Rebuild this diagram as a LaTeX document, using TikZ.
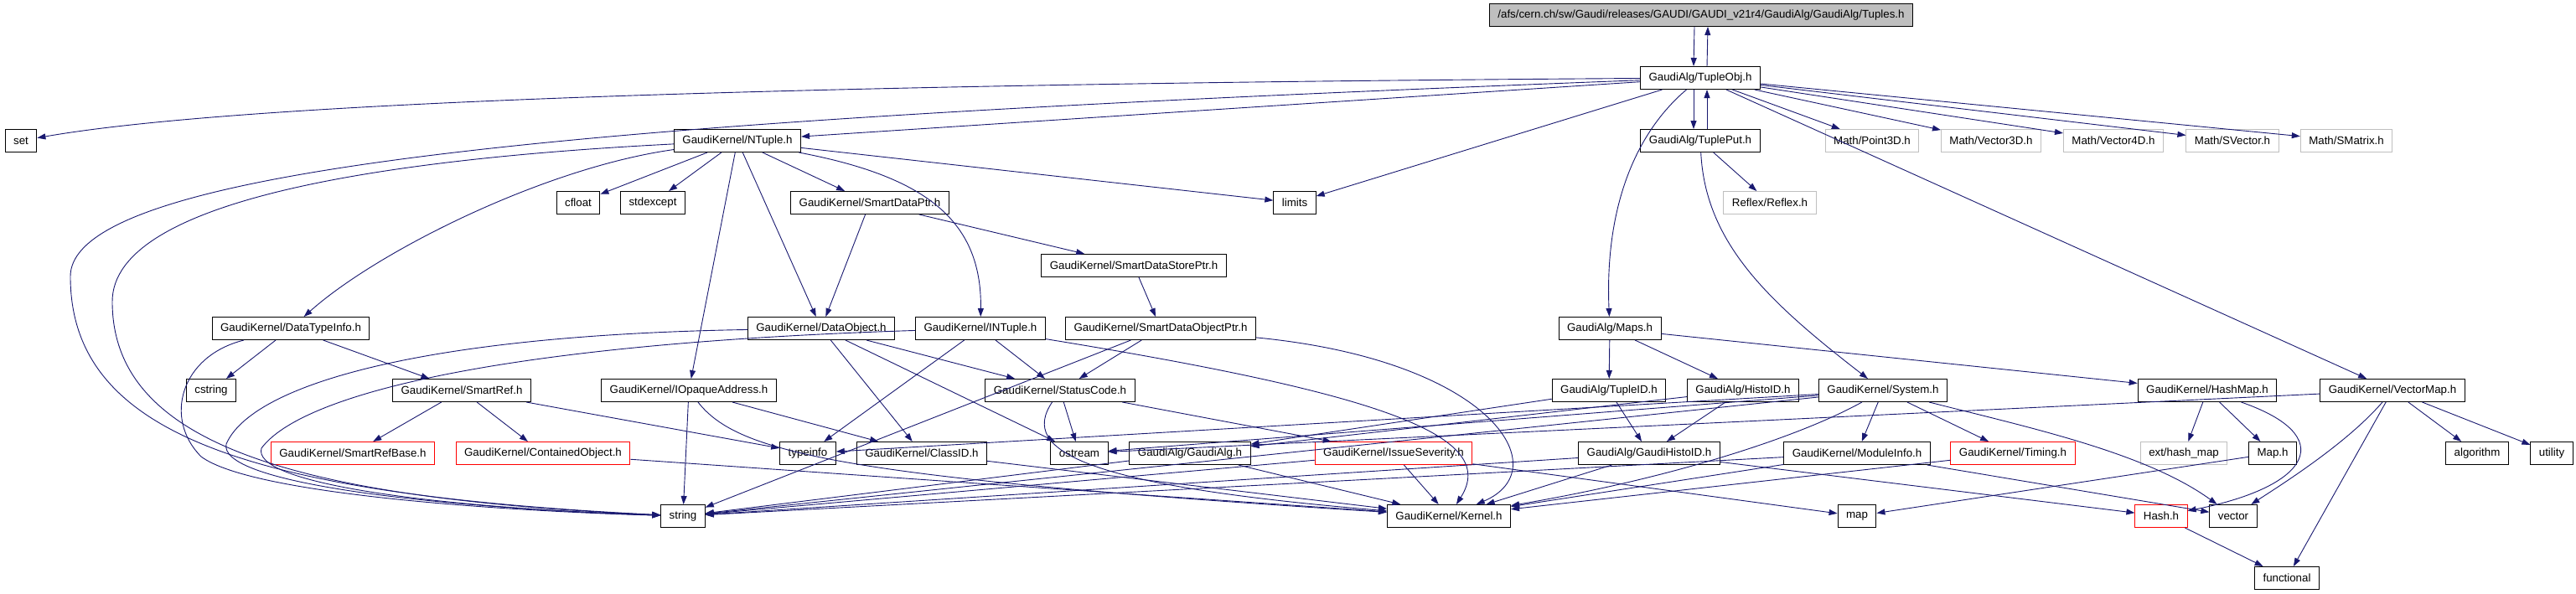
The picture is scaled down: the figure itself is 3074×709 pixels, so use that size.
\documentclass[tikz,border=0pt]{standalone}
\usepackage{fontspec}
\setmainfont{Liberation Sans}
\usetikzlibrary{arrows.meta}
\definecolor{edgeblue}{RGB}{25,25,112}
\definecolor{extgrey}{RGB}{191,191,191}
\begin{document}
\begin{tikzpicture}[
  x=1pt, y=-1pt,
  box/.style={draw, line width=1pt, minimum height=27pt, inner xsep=10pt,
              inner ysep=0pt, font=\fontsize{13.3}{16}\selectfont},
  root/.style={box, fill=extgrey},
  sysbox/.style={box, draw=extgrey},
  missing/.style={box, draw=red},
  arrow/.style={-{Triangle[length=10pt,width=7pt]}, edgeblue, line width=0.9pt}
]
\useasboundingbox (0,0) rectangle (3074,709);
% rows from top to bottom
\node[root] (tuples) at (2030,18) {/afs/cern.ch/sw/Gaudi/releases/GAUDI/GAUDI\_v21r4/GaudiAlg/GaudiAlg/Tuples.h};
\node[box] (tupleobj) at (2029,93) {GaudiAlg/TupleObj.h};
\node[box] (set) at (25,168) {set};
\node[box] (ntuple) at (880,168) {GaudiKernel/NTuple.h};
\node[box] (tupleput) at (2029,168) {GaudiAlg/TuplePut.h};
\node[sysbox] (point3d) at (2234,168) {Math/Point3D.h};
\node[sysbox] (vector3d) at (2376,168) {Math/Vector3D.h};
\node[sysbox] (vector4d) at (2522,168) {Math/Vector4D.h};
\node[sysbox] (svector) at (2664,168) {Math/SVector.h};
\node[sysbox] (smatrix) at (2800,168) {Math/SMatrix.h};
\node[box] (cfloat) at (690,242) {cfloat};
\node[box] (stdexcept) at (779,242) {stdexcept};
\node[box] (smartdataptr) at (1038,242) {GaudiKernel/SmartDataPtr.h};
\node[box] (limits) at (1545,242) {limits};
\node[sysbox] (reflex) at (2112,242) {Reflex/Reflex.h};
\node[box] (smartdatastoreptr) at (1353,317) {GaudiKernel/SmartDataStorePtr.h};
\node[box] (datatypeinfo) at (347,392) {GaudiKernel/DataTypeInfo.h};
\node[box] (dataobject) at (980,392) {GaudiKernel/DataObject.h};
\node[box] (intuple) at (1170,392) {GaudiKernel/INTuple.h};
\node[box] (smartdataobjectptr) at (1385,392) {GaudiKernel/SmartDataObjectPtr.h};
\node[box] (maps) at (1921,392) {GaudiAlg/Maps.h};
\node[box] (cstring) at (252,466) {cstring};
\node[box] (smartref) at (551,466) {GaudiKernel/SmartRef.h};
\node[box] (iopaqueaddress) at (822,466) {GaudiKernel/IOpaqueAddress.h};
\node[box] (statuscode) at (1265,466) {GaudiKernel/StatusCode.h};
\node[box] (tupleid) at (1920,466) {GaudiAlg/TupleID.h};
\node[box] (histoid) at (2080,466) {GaudiAlg/HistoID.h};
\node[box] (system) at (2247,466) {GaudiKernel/System.h};
\node[box] (hashmap) at (2634,466) {GaudiKernel/HashMap.h};
\node[box] (vectormap) at (2855,466) {GaudiKernel/VectorMap.h};
\node[missing] (smartrefbase) at (421,541) {GaudiKernel/SmartRefBase.h};
\node[missing] (containedobject) at (648,541) {GaudiKernel/ContainedObject.h};
\node[box] (typeinfo) at (964,541) {typeinfo};
\node[box] (classid) at (1100,541) {GaudiKernel/ClassID.h};
\node[box] (ostream) at (1288,541) {ostream};
\node[box] (gaudialg) at (1420,541) {GaudiAlg/GaudiAlg.h};
\node[missing] (issueseverity) at (1663,541) {GaudiKernel/IssueSeverity.h};
\node[box] (gaudihistoid) at (1968,541) {GaudiAlg/GaudiHistoID.h};
\node[box] (moduleinfo) at (2216,541) {GaudiKernel/ModuleInfo.h};
\node[missing] (timing) at (2402,541) {GaudiKernel/Timing.h};
\node[sysbox] (exthashmap) at (2606,541) {ext/hash\_map};
\node[box] (maph) at (2712,541) {Map.h};
\node[box] (algorithm) at (2956,541) {algorithm};
\node[box] (utility) at (3045,541) {utility};
\node[box] (string) at (815,616) {string};
\node[box] (kernel) at (1729,616) {GaudiKernel/Kernel.h};
\node[box] (map) at (2216,616) {map};
\node[missing] (hash) at (2579,616) {Hash.h};
\node[box] (vector) at (2665,616) {vector};
\node[box] (functional) at (2729,690) {functional};
% Tuples.h and its includes
\draw[arrow] ([xshift=-8pt]tuples.south) -- ([xshift=-8pt]tupleobj.north);
\draw[arrow] ([xshift=8pt]tupleobj.north) -- ([xshift=8pt]tuples.south);
\draw[arrow] ([xshift=-8pt]tupleobj.south) -- ([xshift=-8pt]tupleput.north);
\draw[arrow] ([xshift=8pt]tupleput.north) -- ([xshift=8pt]tupleobj.south);
\draw[arrow] (tupleobj) .. controls (1000,100) and (300,120) .. (set);
\draw[arrow] (tupleobj) .. controls (800,140) and (84,190) .. (84,330) .. controls (84,520) and (300,590) .. (string);
\draw[arrow] (tupleobj) -- (ntuple);
\draw[arrow] (tupleobj) -- (limits);
\draw[arrow] (tupleobj) .. controls (1950,160) and (1915,250) .. (maps);
\foreach \m in {point3d,vector3d,vector4d,svector,smatrix}
  \draw[arrow] (tupleobj) -- (\m);
\draw[arrow] (tupleobj) -- (vectormap);
\draw[arrow] (tupleput) -- (reflex);
\draw[arrow] (tupleput) .. controls (2035,290) and (2110,360) .. (system);
% NTuple.h
\draw[arrow] (ntuple) .. controls (450,190) and (134,240) .. (134,360) .. controls (134,530) and (350,595) .. (string);
\draw[arrow] (ntuple) .. controls (650,200) and (450,300) .. (datatypeinfo);
\foreach \m in {cfloat,stdexcept,smartdataptr,limits,iopaqueaddress,dataobject}
  \draw[arrow] (ntuple) -- (\m);
\draw[arrow] (ntuple) .. controls (1100,210) and (1172,260) .. (intuple);
\draw[arrow] (smartdataptr) -- (smartdatastoreptr);
\draw[arrow] (smartdataptr) -- (dataobject);
\draw[arrow] (smartdatastoreptr) -- (smartdataobjectptr);
% GaudiKernel headers
\draw[arrow] (datatypeinfo) -- (cstring);
\draw[arrow] (datatypeinfo) -- (smartref);
\draw[arrow] (datatypeinfo) .. controls (215,425) and (195,500) .. (240,545) .. controls (300,590) and (600,610) .. (string);
\draw[arrow] (dataobject) .. controls (500,400) and (300,460) .. (270,530) .. controls (260,575) and (500,605) .. (string);
\draw[arrow] (intuple) .. controls (600,410) and (360,470) .. (312,535) .. controls (300,575) and (500,605) .. (string);
\foreach \m in {classid,ostream,statuscode}
  \draw[arrow] (dataobject) -- (\m);
\draw[arrow] (intuple) -- (typeinfo);
\draw[arrow] (intuple) -- (statuscode);
\draw[arrow] (intuple) .. controls (1650,470) and (1790,520) .. (kernel);
\draw[arrow] (smartdataobjectptr) -- (string);
\draw[arrow] (smartdataobjectptr) -- (statuscode);
\draw[arrow] (smartdataobjectptr) .. controls (1780,430) and (1860,560) .. (kernel);
\draw[arrow] (statuscode) -- (ostream);
\draw[arrow] (statuscode) -- (issueseverity);
\draw[arrow] (statuscode) .. controls (1215,540) and (1300,580) .. (kernel);
\foreach \m in {smartrefbase,containedobject,typeinfo}
  \draw[arrow] (smartref) -- (\m);
\draw[arrow] (iopaqueaddress) -- (string);
\draw[arrow] (iopaqueaddress) -- (classid);
\draw[arrow] (iopaqueaddress) .. controls (880,540) and (1000,570) .. (kernel);
\draw[arrow] (containedobject) -- (kernel);
\draw[arrow] (classid) -- (kernel);
\draw[arrow] (gaudialg) -- (string);
\draw[arrow] (gaudialg) -- (kernel);
\draw[arrow] (issueseverity) -- (string);
\draw[arrow] (issueseverity) -- (kernel);
\draw[arrow] (issueseverity) -- (map);
% GaudiAlg/Maps.h
\foreach \m in {tupleid,histoid,hashmap}
  \draw[arrow] (maps) -- (\m);
\draw[arrow] (tupleid) -- (gaudihistoid);
\draw[arrow] (tupleid) -- (gaudialg);
\draw[arrow] (histoid) -- (gaudihistoid);
\draw[arrow] (histoid) -- (gaudialg);
\foreach \m in {string,kernel,hash}
  \draw[arrow] (gaudihistoid) -- (\m);
\foreach \m in {string,typeinfo,ostream,moduleinfo,timing}
  \draw[arrow] (system) -- (\m);
\draw[arrow] (system) .. controls (2150,520) and (2000,570) .. (kernel);
\draw[arrow] (system) .. controls (2420,510) and (2560,540) .. (vector);
\foreach \m in {string,kernel,vector}
  \draw[arrow] (moduleinfo) -- (\m);
\draw[arrow] (timing) -- (kernel);
\draw[arrow] (hashmap) -- (exthashmap);
\draw[arrow] (hashmap) -- (maph);
\draw[arrow] (hashmap) .. controls (2790,520) and (2760,580) .. (hash);
\draw[arrow] (maph) -- (map);
\draw[arrow] (vectormap) -- (ostream);
\draw[arrow] (vectormap) .. controls (2800,530) and (2720,580) .. (vector);
\foreach \m in {functional,algorithm,utility}
  \draw[arrow] (vectormap) -- (\m);
\draw[arrow] (hash) -- (functional);
\end{tikzpicture}
\end{document}
